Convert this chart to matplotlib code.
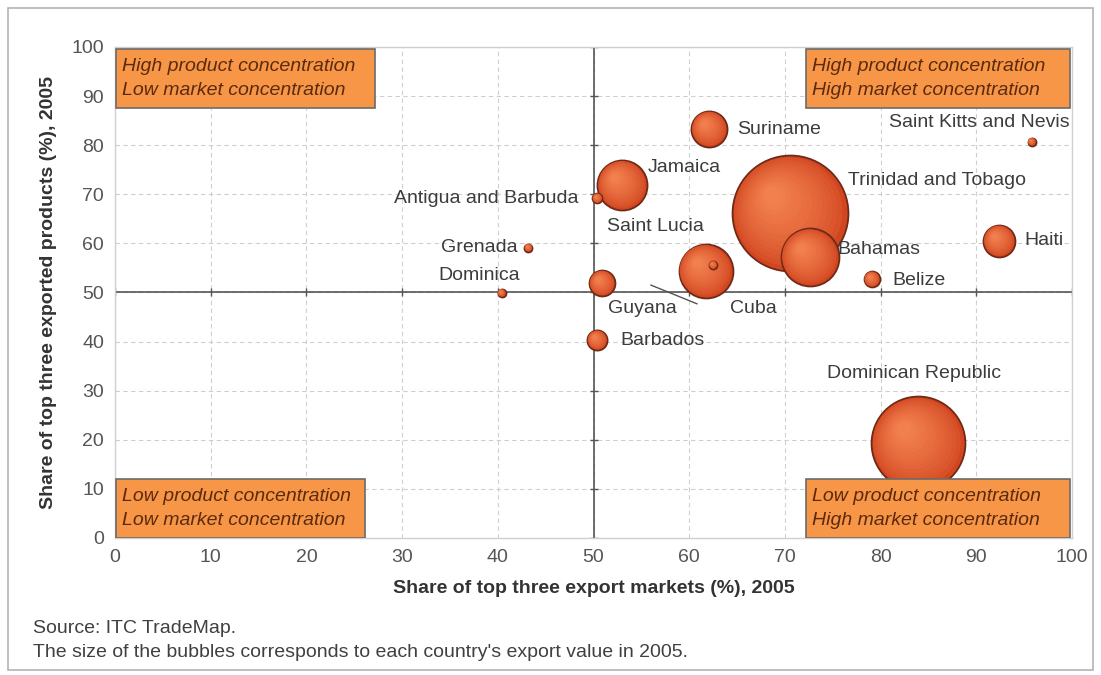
import matplotlib.pyplot as plt
import matplotlib.transforms as mtrans
from matplotlib.patches import Rectangle
from matplotlib.colors import to_rgb
import numpy as np

plt.rcParams['font.family'] = ['Liberation Sans', 'DejaVu Sans']

# share of top three export markets / products (%), export value 2005 (USD bn)
countries = ['Trinidad and Tobago', 'Dominican Republic', 'Bahamas', 'Cuba', 'Jamaica',
             'Suriname', 'Haiti', 'Guyana', 'Barbados', 'Belize', 'Antigua and Barbuda',
             'Saint Lucia', 'Grenada', 'Dominica', 'Saint Kitts and Nevis']
market_share = [70.5, 83.9, 72.6, 61.7, 53.0, 62.1, 92.4, 50.9, 50.4, 79.1, 50.4,
                62.5, 43.2, 40.4, 95.8]
product_share = [66.2, 19.3, 57.2, 54.4, 71.9, 83.3, 60.5, 51.9, 40.3, 52.7, 69.2,
                 55.6, 59.1, 49.9, 80.7]
export_value = [9.6, 6.3, 2.4, 2.08, 1.79, 0.93, 0.73, 0.48, 0.29, 0.18, 0.07,
                0.046, 0.046, 0.046, 0.046]

# where each country name sits (data coords, horizontal alignment)
label_pos = {
    'Suriname': (65.0, 83.1, 'left'),
    'Jamaica': (55.7, 75.4, 'left'),
    'Antigua and Barbuda': (48.4, 69.2, 'right'),
    'Saint Lucia': (51.4, 63.5, 'left'),
    'Trinidad and Tobago': (76.6, 72.9, 'left'),
    'Saint Kitts and Nevis': (90.3, 84.7, 'center'),
    'Grenada': (42.1, 59.1, 'right'),
    'Dominica': (42.3, 53.4, 'right'),
    'Haiti': (95.0, 60.5, 'left'),
    'Bahamas': (75.5, 58.7, 'left'),
    'Belize': (81.2, 52.5, 'left'),
    'Guyana': (51.5, 46.8, 'left'),
    'Cuba': (64.3, 46.8, 'left'),
    'Barbados': (52.8, 40.3, 'left'),
    'Dominican Republic': (83.5, 33.4, 'center'),
}

quadrants = [
    ('High product concentration\nLow market concentration', 0.1, 87.6, 27.1),
    ('High product concentration\nHigh market concentration', 72.2, 87.6, 27.6),
    ('Low product concentration\nLow market concentration', 0.1, 0.0, 26.0),
    ('Low product concentration\nHigh market concentration', 72.2, 0.0, 27.6),
]

ticks = np.arange(0, 101, 10)

fig = plt.figure(figsize=(11.01, 6.75), dpi=100)
ax = fig.add_axes([0.1045, 0.203, 0.8692, 0.7274])
ax.set_xlim(0, 100)
ax.set_ylim(0, 100)

# outer frame
fig.patches.append(Rectangle((0.007, 0.007), 0.986, 0.981, transform=fig.transFigure,
                             fill=False, ec='#b4b4b4', lw=1.2))

for sp in ax.spines.values():
    sp.set_color('#d0d0d0')
    sp.set_linewidth(1)
ax.set_xticks(ticks)
ax.set_yticks(ticks)
ax.tick_params(length=0, labelsize=14, labelcolor='#555555', pad=8)
ax.grid(True, color='#cfcfcf', lw=0.8, ls=(0, (4, 3)))
ax.set_axisbelow(True)

# axes crossing at 50/50
ax.axvline(50, color='#555555', lw=1.2, zorder=1)
ax.axhline(50, color='#555555', lw=1.2, zorder=1)
ax.plot(np.full(len(ticks), 50), ticks, ls='none', marker='_', ms=6, color='#555555', zorder=1)
ax.plot(ticks, np.full(len(ticks), 50), ls='none', marker='|', ms=6, color='#555555', zorder=1)

# bubbles, biggest first so smaller ones sit on top; stacked discs fake the shading
scale = 725
order = np.argsort(export_value)[::-1]
rim = np.array(to_rgb('#d2461f'))
glow = np.array(to_rgb('#f2804f'))
steps = np.linspace(1.0, 0.15, 14)
for z, i in enumerate(order):
    s = export_value[i] * scale
    r_pt = np.sqrt(s) / 2
    for k, f in enumerate(steps):
        t = (1 - f) / (1 - steps[-1])
        c = rim + (glow - rim) * t ** 0.7
        off = (1 - f) * r_pt * 0.35 / 72
        tr = ax.transData + mtrans.ScaledTranslation(-off, off, fig.dpi_scale_trans)
        ax.scatter(market_share[i], product_share[i], s=s * f * f, color=c,
                   edgecolors='#6e2a18' if k == 0 else 'none', linewidths=1.3,
                   transform=tr, zorder=3 + z * 0.01)

for name in countries:
    x, y, ha = label_pos[name]
    ax.text(x, y, name, ha=ha, va='center', fontsize=14, color='#3c3c3c', zorder=5,
            clip_on=False)

# leader line
ax.plot([56.0, 60.8], [51.5, 47.7], color='#555555', lw=1, zorder=2)

for txt, x0, y0, w in quadrants:
    ax.add_patch(Rectangle((x0, y0), w, 12.0, fc='#f79646', ec='#6b6b6b', lw=1.2, zorder=6))
    ax.text(x0 + 0.6, y0 + 6.0, txt, ha='left', va='center', fontsize=14,
            style='italic', color='#5c2a0e', linespacing=1.5, zorder=7)

ax.set_xlabel('Share of top three export markets (%), 2005', fontsize=14,
              fontweight='bold', color='#333333', labelpad=10)
ax.set_ylabel('Share of top three exported products (%), 2005', fontsize=14,
              fontweight='bold', color='#333333', labelpad=10)

fig.text(0.030, 0.0696, 'Source: ITC TradeMap.', fontsize=14, color='#404040', va='center')
fig.text(0.030, 0.034, "The size of the bubbles corresponds to each country's export value in 2005.",
         fontsize=14, color='#404040', va='center')

fig.savefig('out.png', dpi=100)
